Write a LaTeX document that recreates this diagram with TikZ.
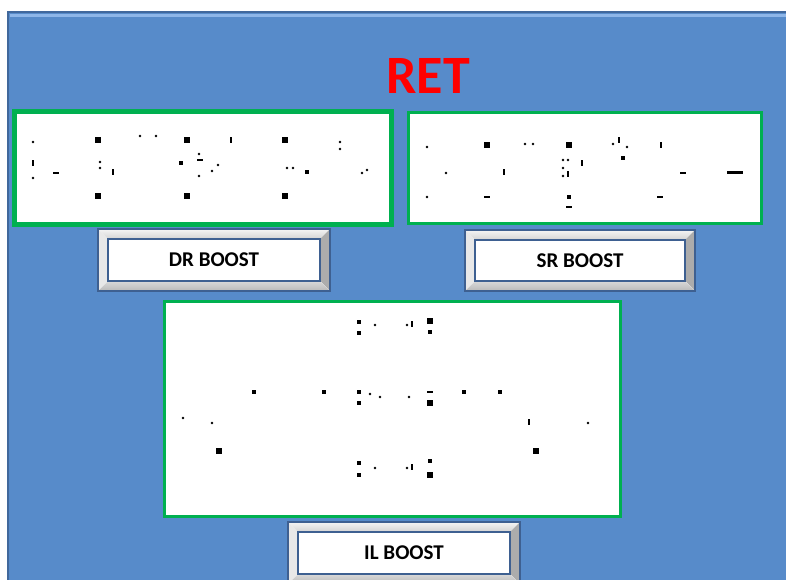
\documentclass[tikz,border=0pt]{standalone}
\usepackage{fontspec}
\setmainfont{Carlito}
\usetikzlibrary{calc}

\definecolor{panelblue}{RGB}{87,139,202}
\definecolor{paneledge}{RGB}{65,104,156}
\definecolor{panellight}{RGB}{142,182,232}
\definecolor{boxgreen}{RGB}{0,176,80}
\definecolor{btnedge}{RGB}{62,96,145}

\begin{document}
\begin{tikzpicture}[x=1pt, y=-1pt,
    shot/.style={rectangle, draw=boxgreen, fill=white, line width=3pt, inner sep=0pt},
    btn/.style={rectangle, draw=btnedge, line width=2.2pt, fill=white, inner sep=0pt,
      minimum width=231pt, minimum height=61pt, font=\fontsize{21}{21}\selectfont\bfseries,
      path picture={
        \coordinate (pa) at (path picture bounding box.north west);
        \coordinate (pb) at (path picture bounding box.north east);
        \coordinate (pc) at (path picture bounding box.south east);
        \coordinate (pd) at (path picture bounding box.south west);
        \fill[top color=gray!8, bottom color=gray!35] (pa) -- (pb) -- ($(pb)+(-10pt,-10pt)$) -- ($(pa)+(10pt,-10pt)$) -- cycle;
        \fill[gray!18] (pa) -- ($(pa)+(10pt,-10pt)$) -- ($(pd)+(10pt,10pt)$) -- (pd) -- cycle;
        \fill[gray!65] (pb) -- ($(pb)+(-10pt,-10pt)$) -- ($(pc)+(-10pt,10pt)$) -- (pc) -- cycle;
        \fill[top color=gray!30, bottom color=gray!55] (pd) -- ($(pd)+(10pt,10pt)$) -- ($(pc)+(-10pt,10pt)$) -- (pc) -- cycle;
        \draw[btnedge, line width=1.3pt] ($(pa)+(10pt,-10pt)$) rectangle ($(pc)+(-10pt,10pt)$);
      }},
    dot/.style={fill=black}
  ]
  \useasboundingbox (0,0) rectangle (786,579);
  \clip (0,0) rectangle (786,579);

  % Background panel
  \fill[panelblue] (8,12) rectangle (800,600);
  \draw[panellight, line width=3pt] (10,15.5) -- (800,15.5);
  \draw[paneledge, line width=2pt] (8,12) rectangle (800,600);

  % Title
  \node[font=\fontsize{54}{54}\selectfont\bfseries, text=red] (title) at (428,76) {RET};

  % Picture frames
  \node[shot, line width=4.5pt, minimum width=377pt, minimum height=113pt] (drpic) at (203,168) {};
  \node[shot, minimum width=353pt, minimum height=111pt] (srpic) at (585,168) {};
  \node[shot, minimum width=456pt, minimum height=215pt] (ilpic) at (392.5,409) {};

  % Buttons
  \node[btn, minimum width=232pt, minimum height=62pt] (drbtn) at (214,260) {DR BOOST};
  \node[btn, minimum width=230pt] (srbtn) at (580,260.5) {SR BOOST};
  \node[btn, minimum width=232pt, minimum height=62pt] (ilbtn) at (404,553) {IL BOOST};

  % Leftover specks inside the frames
  \foreach \x/\y in {33/142,140/136,156/136,340/142,340/149,33/178,100/162,100/168,199/154,218/165,212/171,199/176,287/168,293/168,362/173,367/170,
      427/147,525/144,533/144,613/144,627/147,563/160,568/160,446/173,563/168,563/176,427/197,
      375/325,407/325,370/394,380/397,409/397,183/418,212/423,588/423,375/468,407/468}
    \fill[dot] (\x,\y) circle (1.4);
  \foreach \x/\y in {98/140,187/140,285/140,98/196,187/196,285/196,487/145,569/145,430/321,430/403,219/451,536/451,430/475}
    \fill[dot] (\x-2.7,\y-2.7) rectangle (\x+2.7,\y+2.7);
  \foreach \x/\y in {231/140,33/163,113/172,619/140,661/145,582/163,504/172,568/174,412/324,529/422,412/467}
    \fill[dot] (\x-1.2,\y-2.7) rectangle (\x+1.2,\y+2.7);
  \foreach \x/\y in {56/173,200/160,683/173,487/197,569/207,660/197,430/392}
    \fill[dot] (\x-3,\y-1.2) rectangle (\x+3,\y+1.2);
  \fill[dot] (727,171) rectangle (743,174);
  \foreach \x/\y in {181/163,307/172,623/158,569/197,359/322,359/333,430/332,254/392,324/392,359/392,359/403,464/392,500/392,359/463,359/475,430/461}
    \fill[dot] (\x-2.3,\y-2.3) rectangle (\x+2.3,\y+2.3);
\end{tikzpicture}
\end{document}
